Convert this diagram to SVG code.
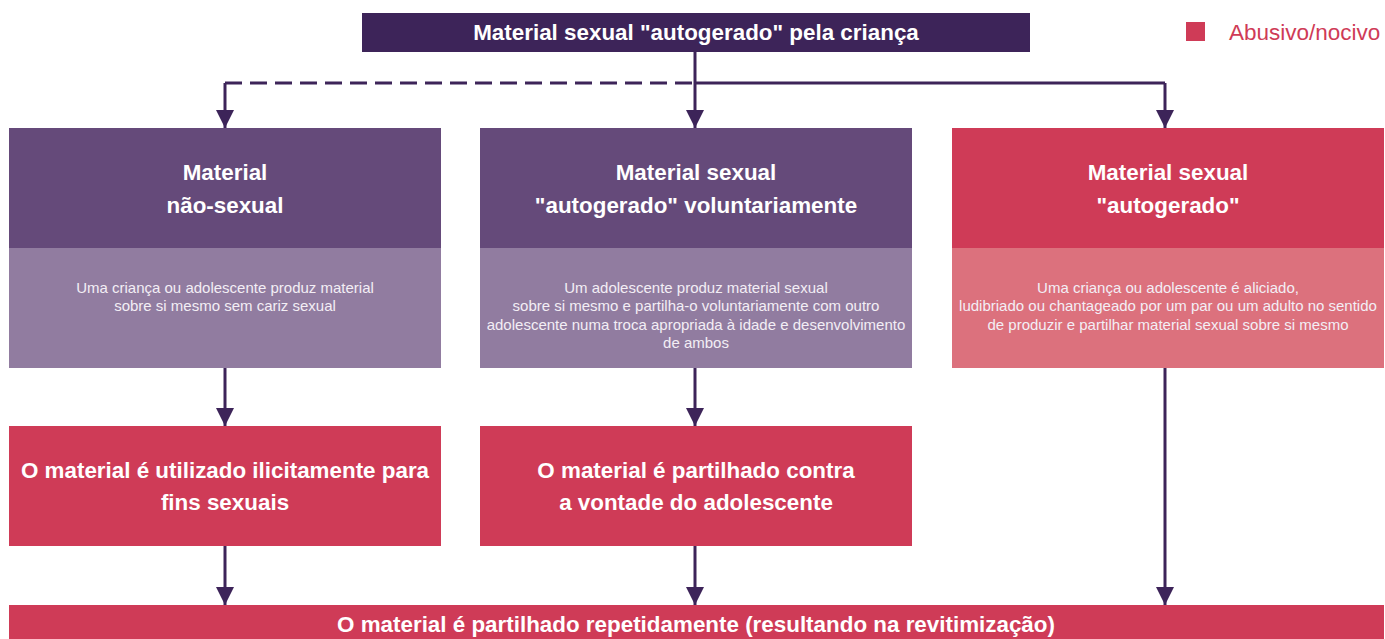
<svg xmlns="http://www.w3.org/2000/svg" width="1385" height="639" viewBox="0 0 1385 639">
<defs>
<marker id="ah" viewBox="0 0 10 10" refX="10" refY="5" markerWidth="6" markerHeight="6" orient="auto" markerUnits="strokeWidth">
<path d="M0,0 L10,5 L0,10 Z" fill="#3d2459"/>
</marker>
<style>
.hd{font-family:"Liberation Sans Narrow","Liberation Sans",Arial,sans-serif;font-weight:bold;font-size:22.4px;fill:#ffffff;text-anchor:middle}
.bd{font-family:"Liberation Sans",Arial,sans-serif;font-size:15px;fill:#f3eef5;text-anchor:middle}
.ln{stroke:#3d2459;stroke-width:3;fill:none}
.arr{stroke:#3d2459;stroke-width:3;fill:none;marker-end:url(#ah)}
.pH{fill:#654a7a}.pB{fill:#917ca0}.rH{fill:#cf3b57}.rB{fill:#dc717d}
</style>
</defs>
<rect width="1385" height="639" fill="#ffffff"/>
<g id="connectors">
<path class="ln" d="M225,83 H695" stroke-dasharray="17,8"/>
<path class="ln" d="M695,83 H1165"/>
<path class="arr" d="M695,52 V128"/>
<path class="arr" d="M225,83 V128"/>
<path class="arr" d="M1165,83 V128"/>
<path class="arr" d="M225,368 V426"/>
<path class="arr" d="M695,368 V426"/>
<path class="arr" d="M1165,368 V605"/>
<path class="arr" d="M225,546 V605"/>
<path class="arr" d="M695,546 V605"/>
</g>
<g id="top">
<rect x="362" y="13" width="668" height="39" fill="#3d2459"/>
<text class="hd" x="696" y="40">Material sexual "autogerado" pela criança</text>
</g>
<g id="legend">
<rect x="1186" y="22" width="19" height="19" fill="#cf3b57"/>
<text x="1229" y="40" font-family="Liberation Sans,Arial,sans-serif" font-size="22.5" fill="#cf3b57">Abusivo/nocivo</text>
</g>
<g id="n1">
<rect class="pH" x="9" y="128" width="432" height="120"/>
<rect class="pB" x="9" y="248" width="432" height="120"/>
<text class="hd" x="225" y="180">Material</text>
<text class="hd" x="225" y="213">não-sexual</text>
<text class="bd" x="225" y="293">Uma criança ou adolescente produz material</text>
<text class="bd" x="225" y="311">sobre si mesmo sem cariz sexual</text>
</g>
<g id="n2">
<rect class="pH" x="480" y="128" width="432" height="120"/>
<rect class="pB" x="480" y="248" width="432" height="120"/>
<text class="hd" x="696" y="180">Material sexual</text>
<text class="hd" x="696" y="213">"autogerado" voluntariamente</text>
<text class="bd" x="696" y="293">Um adolescente produz material sexual</text>
<text class="bd" x="696" y="311">sobre si mesmo e partilha-o voluntariamente com outro</text>
<text class="bd" x="696" y="330">adolescente numa troca apropriada à idade e desenvolvimento</text>
<text class="bd" x="696" y="348">de ambos</text>
</g>
<g id="n3">
<rect class="rH" x="952" y="128" width="432" height="120"/>
<rect class="rB" x="952" y="248" width="432" height="120"/>
<text class="hd" x="1168" y="180">Material sexual</text>
<text class="hd" x="1168" y="213">"autogerado"</text>
<text class="bd" x="1168" y="293">Uma criança ou adolescente é aliciado,</text>
<text class="bd" x="1168" y="311">ludibriado ou chantageado por um par ou um adulto no sentido</text>
<text class="bd" x="1168" y="330">de produzir e partilhar material sexual sobre si mesmo</text>
</g>
<g id="n4">
<rect class="rH" x="9" y="426" width="432" height="120"/>
<text class="hd" x="225" y="478">O material é utilizado ilicitamente para</text>
<text class="hd" x="225" y="510">fins sexuais</text>
</g>
<g id="n5">
<rect class="rH" x="480" y="426" width="432" height="120"/>
<text class="hd" x="696" y="478">O material é partilhado contra</text>
<text class="hd" x="696" y="510">a vontade do adolescente</text>
</g>
<g id="n6">
<rect class="rH" x="9" y="605" width="1375" height="34"/>
<text class="hd" x="696" y="632">O material é partilhado repetidamente (resultando na revitimização)</text>
</g>
</svg>
